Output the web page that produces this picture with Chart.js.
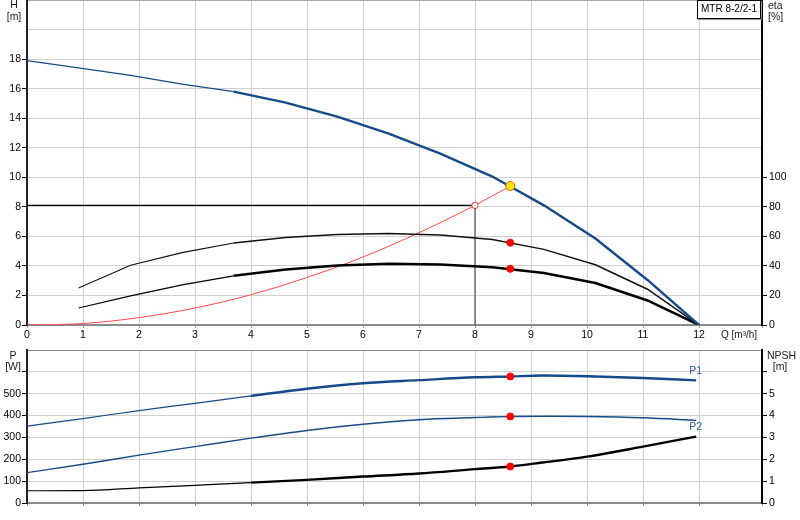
<!DOCTYPE html>
<html>
<head>
<meta charset="utf-8">
<script src="https://cdn.jsdelivr.net/npm/chart.js@4/dist/chart.umd.min.js"></script>
<style>
  html, body { margin: 0; padding: 0; background: #fff; }
  #wrap { position: relative; width: 800px; height: 520px; }
  #top { position: absolute; left: 0; top: 0; width: 800px; height: 345px; }
  #bot { position: absolute; left: 0; top: 345px; width: 800px; height: 175px; }
</style>
</head>
<body>
<div id="wrap">
  <canvas id="top" width="800" height="345"></canvas>
  <canvas id="bot" width="800" height="175"></canvas>
</div>
<script>
// ---------------- Data ----------------
const qHead = [0, 0.92, 1.85, 2.77, 3.69, 4.62, 5.54, 6.46, 7.38, 8.31, 9.23, 10.15, 11.08, 12];
const head = [17.9, 17.4, 16.9, 16.3, 15.8, 15.05, 14.1, 12.95, 11.6, 10.05, 8.1, 5.85, 3.05, 0];

const qEta = [0.92, 1.85, 2.77, 3.69, 4.62, 5.54, 6.46, 7.38, 8.31, 9.23, 10.15, 11.08, 12];
const etaPump = [25, 40.5, 49, 55.5, 59.2, 61.2, 62, 61, 57.8, 51.2, 40.8, 24.2, 0];
const etaTotal = [11.5, 19.7, 27.2, 33.3, 37.5, 40.3, 41.4, 41, 39.1, 35.2, 28.4, 16.6, 0];

const qSystem = [0, 1, 2, 3, 4, 5, 6, 7, 8, 8.63];
const hSystem = [0, 0.1, 0.5, 1.15, 2.05, 3.22, 4.6, 6.25, 8.1, 9.41];

const qPower = [0, 1, 2, 3, 4, 5, 6, 7, 8, 8.63, 9.2, 10, 11, 11.95];
const powerP1 = [352, 386, 423, 456, 490, 523, 548, 562, 575, 579, 583, 580, 572, 561];
const powerP2 = [139, 177, 219, 258, 297, 332, 360, 381, 391, 396, 397, 396, 390, 378];
const npshReq = [0.56, 0.57, 0.69, 0.81, 0.93, 1.06, 1.21, 1.35, 1.55, 1.67, 1.85, 2.12, 2.58, 3.04];

// duty point and requested point
const dutyQ = 8.63, dutyH = 9.41, dutyEtaPump = 55.7, dutyEtaTotal = 38;
const dutyP1 = 579, dutyP2 = 396, dutyNpsh = 1.67;
const reqQ = 8, reqH = 8.1;

const pumpName = 'MTR 8-2/2-1';
const qMax = 13.125;

// ---------------- helpers ----------------
const FONT = '"Liberation Sans", Arial, sans-serif';
Chart.defaults.font.family = FONT;
Chart.defaults.font.size = 10.5;
Chart.defaults.color = '#000';

const BLUE = '#174a88';
const GRID = '#d0d0d0';

const pts = (xs, ys) => xs.map((x, i) => ({ x: x, y: ys[i] }));
const widthFrom = (q0, thin, wide) => ({ borderWidth: c => c.p0.parsed.x >= q0 ? wide : thin });
const noPad = s => { s.paddingTop = 0; s.paddingBottom = 0; s.paddingLeft = 0; s.paddingRight = 0; };
const tickCol = lim => c => (c.tick && c.tick.value <= lim) ? '#000' : 'rgba(0,0,0,0)';

function curve(label, data, axis, color, extra) {
  return Object.assign({
    label: label, data: data, yAxisID: axis, borderColor: color,
    borderWidth: 1.2, pointRadius: 0, fill: false, tension: 0
  }, extra || {});
}
function dots(data, axis, bg, border, r, order) {
  return {
    data: data, yAxisID: axis, showLine: false, pointRadius: r,
    pointBackgroundColor: bg, pointBorderColor: border, pointBorderWidth: 1, order: order
  };
}

// ---------------- Upper chart: head + efficiency ----------------
const topLabels = {
  id: 'topLabels',
  afterDraw(chart) {
    const c = chart.ctx;
    c.save();
    c.fillStyle = '#1a1a1a';
    c.font = '10.5px ' + FONT;
    c.textAlign = 'center';
    c.fillText('H', 14, 7.5);
    c.fillText('[m]', 14, 19.5);
    c.textAlign = 'left';
    c.fillText('eta', 768, 8.5);
    c.fillText('[%]', 768, 19.5);
    c.font = '10px ' + FONT;
    c.textBaseline = 'middle';
    c.fillText('Q [m\u00b3/h]', 721, 335);
    // name box
    c.fillStyle = '#fff';
    c.fillRect(697.5, 0.5, 63, 18);
    c.strokeStyle = '#999';
    c.beginPath(); c.moveTo(761.5, 1); c.lineTo(761.5, 19.5); c.lineTo(698, 19.5); c.stroke();
    c.strokeStyle = '#000';
    c.strokeRect(697.5, 0.5, 63, 18);
    c.fillStyle = '#000';
    c.fillText(pumpName, 701, 9.5);
    c.restore();
  }
};

new Chart(document.getElementById('top'), {
  type: 'line',
  data: {
    datasets: [
      dots([{ x: dutyQ, y: dutyEtaPump }, { x: dutyQ, y: dutyEtaTotal }], 'eta', '#ff0000', '#ff0000', 3.5, 0),
      dots([{ x: dutyQ, y: dutyH }], 'y', '#ffe800', '#ff5a00', 4.5, 0),
      dots([{ x: reqQ, y: reqH }], 'y', '#ffffff', '#ff3030', 3.2, 0),
      curve('H', pts(qHead, head), 'y', BLUE, { order: 1, segment: widthFrom(3.6, 1.2, 2.4) }),
      curve('eta pump', pts(qEta, etaPump), 'eta', '#111', { order: 2, segment: widthFrom(3.6, 1.1, 1.5) }),
      curve('eta total', pts(qEta, etaTotal), 'eta', '#000', { order: 2, segment: widthFrom(3.6, 1.2, 2.5) }),
      curve('system', pts(qSystem, hSystem), 'y', '#ff4a4a', { order: 3, borderWidth: 1, cubicInterpolationMode: 'monotone' }),
      curve('required', [{ x: 0, y: reqH }, { x: reqQ, y: reqH }, { x: reqQ, y: 0 }], 'y', '#000', {
        order: 4, borderWidth: 1.2,
        segment: { borderColor: c => c.p0DataIndex === 0 ? '#000' : '#555' }
      })
    ]
  },
  options: {
    responsive: false,
    animation: false,
    layout: { padding: 0, autoPadding: false },
    plugins: { legend: { display: false }, tooltip: { enabled: false } },
    scales: {
      x: {
        type: 'linear', min: 0, max: qMax,
        ticks: { stepSize: 1, padding: 1, callback: v => (Number.isInteger(v) && v <= 12) ? v : '' },
        grid: { color: GRID, tickLength: 3, tickColor: '#999' },
        border: { color: '#8a8a8a', width: 2 },
        afterFit: s => { s.height = 20; noPad(s); }
      },
      y: {
        type: 'linear', position: 'left', min: 0, max: 22,
        ticks: { stepSize: 2, padding: 1, callback: v => v <= 18 ? v : '' },
        grid: { color: c => c.tick && c.tick.value === 22 ? '#aaa' : GRID, tickLength: 5, tickColor: tickCol(18) },
        border: { color: '#222', width: 2 },
        afterFit: s => { s.width = 27; noPad(s); }
      },
      eta: {
        type: 'linear', position: 'right', min: 0, max: 220,
        ticks: { stepSize: 20, padding: 2, callback: v => v <= 100 ? v : '' },
        grid: { drawOnChartArea: false, tickLength: 5, tickColor: tickCol(100) },
        border: { color: '#000', width: 2 },
        afterFit: s => { s.width = 38; noPad(s); }
      }
    }
  },
  plugins: [topLabels]
});

// ---------------- Lower chart: power + NPSH ----------------
const botLabels = {
  id: 'botLabels',
  afterDraw(chart) {
    const c = chart.ctx;
    const x = chart.scales.x, y = chart.scales.y;
    c.save();
    c.fillStyle = '#1a1a1a';
    c.font = '10.5px ' + FONT;
    c.textAlign = 'center';
    c.fillText('P', 13, 13.5);
    c.fillText('[W]', 13, 24.5);
    c.textAlign = 'left';
    c.fillText('NPSH', 767, 13.5);
    c.textAlign = 'center';
    c.fillText('[m]', 780, 24.5);
    // curve names at the curve ends
    const n = qPower.length - 1;
    c.fillStyle = '#2a5c9c';
    c.textBaseline = 'middle';
    c.fillText('P1', x.getPixelForValue(qPower[n]) - 0.5, y.getPixelForValue(powerP1[n]) - 9);
    c.fillText('P2', x.getPixelForValue(qPower[n]) - 0.5, y.getPixelForValue(powerP2[n]) + 7);
    c.restore();
  }
};

new Chart(document.getElementById('bot'), {
  type: 'line',
  data: {
    datasets: [
      dots([{ x: dutyQ, y: dutyP1 }, { x: dutyQ, y: dutyP2 }], 'y', '#ff0000', '#ff0000', 3.5, 0),
      dots([{ x: dutyQ, y: dutyNpsh }], 'npsh', '#ff0000', '#ff0000', 3.5, 0),
      curve('P1', pts(qPower, powerP1), 'y', BLUE, { order: 1, cubicInterpolationMode: 'monotone', segment: widthFrom(4, 1.2, 2.4) }),
      curve('P2', pts(qPower, powerP2), 'y', BLUE, { order: 1, borderWidth: 1.4, cubicInterpolationMode: 'monotone' }),
      curve('NPSH', pts(qPower, npshReq), 'npsh', '#000', { order: 1, cubicInterpolationMode: 'monotone', segment: widthFrom(4, 1.2, 2.4) })
    ]
  },
  options: {
    responsive: false,
    animation: false,
    layout: { padding: { top: 5 }, autoPadding: false },
    plugins: { legend: { display: false }, tooltip: { enabled: false } },
    scales: {
      x: {
        type: 'linear', min: 0, max: qMax,
        ticks: { stepSize: 1, display: false },
        grid: { color: GRID, tickLength: 3, tickColor: '#999' },
        border: { color: '#8a8a8a', width: 2 },
        afterFit: s => { s.height = 17; noPad(s); }
      },
      y: {
        type: 'linear', position: 'left', min: 0, max: 700,
        ticks: { stepSize: 100, padding: 1, callback: v => v <= 500 ? v : '' },
        grid: { color: c => c.tick && c.tick.value === 700 ? '#888' : GRID, tickLength: 5, tickColor: tickCol(600) },
        border: { color: '#222', width: 2 },
        afterFit: s => { s.width = 27; noPad(s); }
      },
      npsh: {
        type: 'linear', position: 'right', min: 0, max: 7,
        ticks: { stepSize: 1, padding: 2, callback: v => v <= 5 ? v : '' },
        grid: { drawOnChartArea: false, tickLength: 5, tickColor: tickCol(6) },
        border: { color: '#000', width: 2 },
        afterFit: s => { s.width = 38; noPad(s); }
      }
    }
  },
  plugins: [botLabels]
});
</script>
</body>
</html>
